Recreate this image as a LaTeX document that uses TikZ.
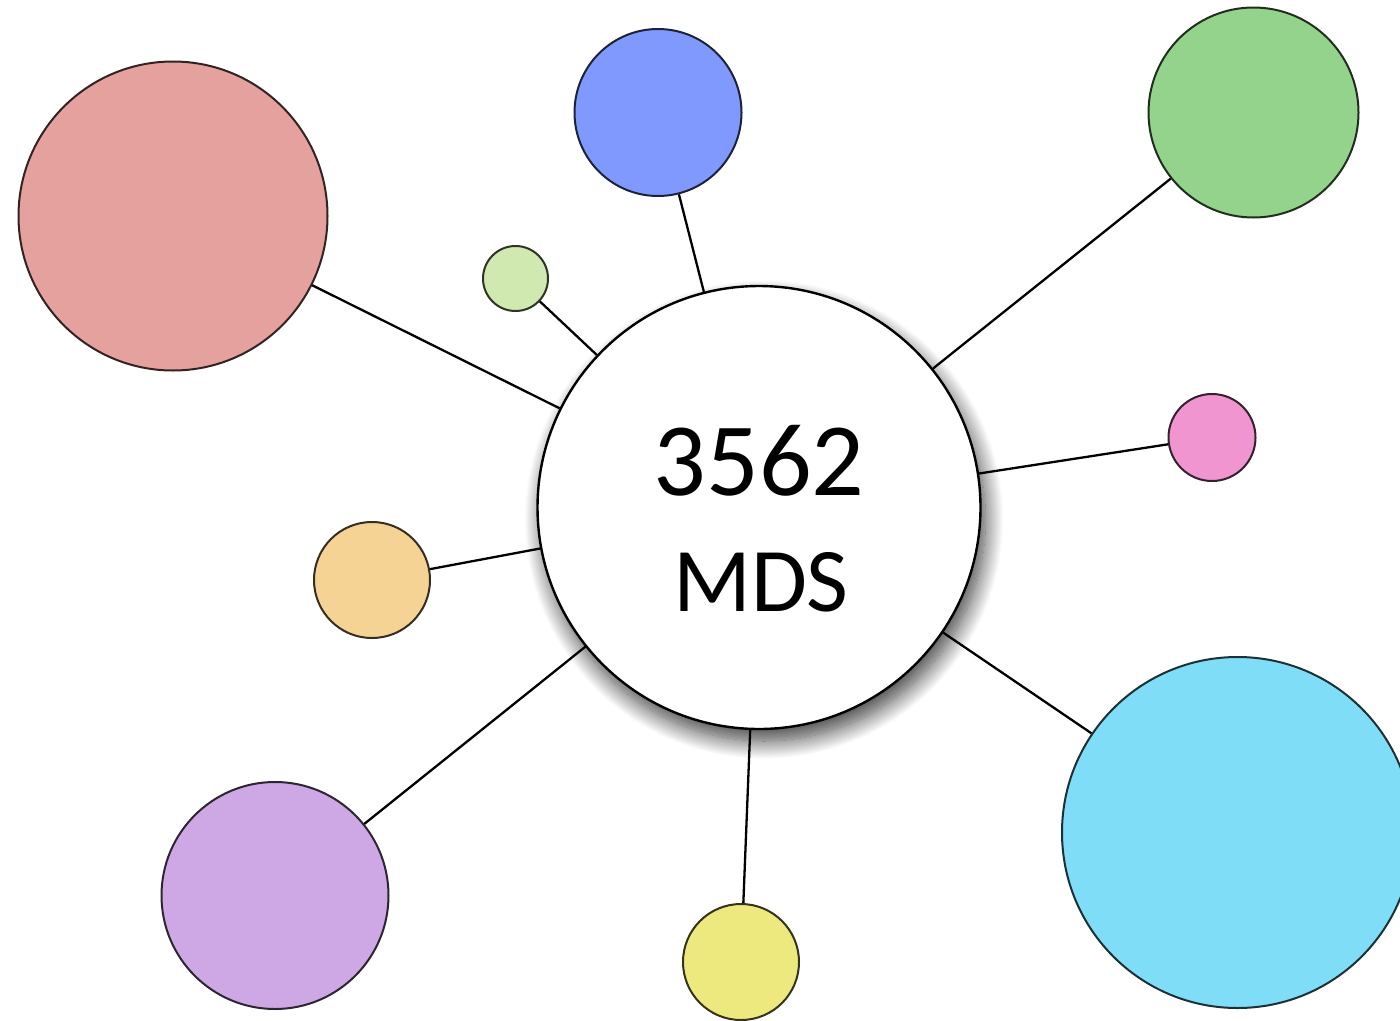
\documentclass[tikz,border=0pt]{standalone}
\usepackage{fontspec}
\setmainfont{Carlito}
\usetikzlibrary{shadows.blur}
\definecolor{cred}{HTML}{E5A19E}
\definecolor{cblue}{HTML}{8099FF}
\definecolor{cgreen}{HTML}{94D38B}
\definecolor{clgreen}{HTML}{D0E9B0}
\definecolor{cpink}{HTML}{F095D0}
\definecolor{corange}{HTML}{F5D394}
\definecolor{cpurple}{HTML}{CEA8E4}
\definecolor{cyellow}{HTML}{EEE97F}
\definecolor{ccyan}{HTML}{80DDF7}
\begin{document}
\begin{tikzpicture}[x=1pt,y=-1pt,
  bub/.style={circle, inner sep=0pt, line width=2pt, fill=#1, draw=#1!22!black},
  link/.style={line width=2.3pt, draw=black},
  big/.style={font=\fontsize{104pt}{104pt}\selectfont, inner sep=0pt, anchor=base},
  mid/.style={font=\fontsize{91pt}{91pt}\selectfont, inner sep=0pt, anchor=base}]
\useasboundingbox (0,0) rectangle (1400,1020);
\node[circle, inner sep=0pt, minimum size=443pt, line width=2.4pt, draw=black, fill=white,
  blur shadow={shadow xshift=5pt, shadow yshift=-12pt, shadow blur radius=18pt, shadow blur steps=24, shadow opacity=75}] (mds) at (759,507.5) {};
\node[big] (num) at (759,495) {3562};
\node[mid] (lab) at (761,611) {MDS};
\node[bub=cred, minimum size=309pt] (red) at (173,216) {};
\node[bub=cblue, minimum size=167pt] (blue) at (658,112.5) {};
\node[bub=cgreen, minimum size=210pt] (green) at (1253.5,112.5) {};
\node[bub=clgreen, minimum size=65pt] (lgreen) at (515.5,278.5) {};
\node[bub=cpink, minimum size=87pt] (pink) at (1212,437.5) {};
\node[bub=corange, minimum size=116pt] (orange) at (372,580) {};
\node[bub=cpurple, minimum size=227pt] (purple) at (275,895.5) {};
\node[bub=cyellow, minimum size=116pt] (yellow) at (741,962) {};
\node[bub=ccyan, minimum size=351pt] (cyan) at (1237.5,832.5) {};
\foreach \t in {red,blue,green,lgreen,pink,orange,purple,yellow,cyan}
  \draw[link] (mds) -- (\t);
\end{tikzpicture}
\end{document}
